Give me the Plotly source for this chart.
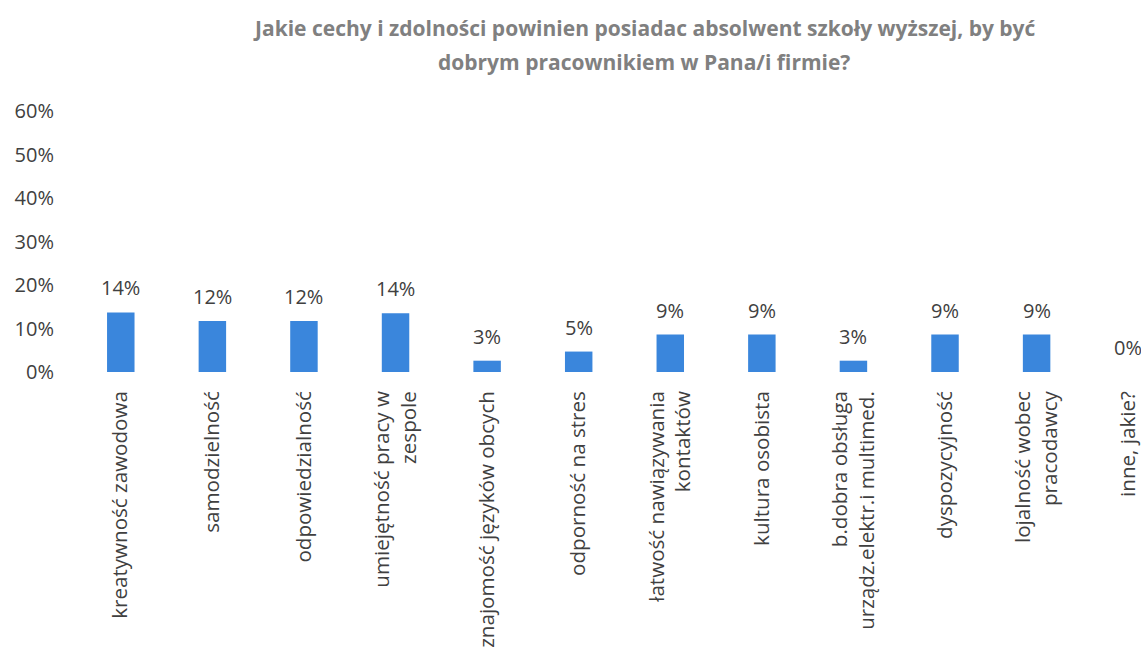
import plotly.graph_objects as go

categories = [
    "kreatywność zawodowa",
    "samodzielność",
    "odpowiedzialność",
    "umiejętność pracy w<br>zespole",
    "znajomość języków obcych",
    "odporność na stres",
    "łatwość nawiązywania<br>kontaktów",
    "kultura osobista",
    "b.dobra obsługa<br>urządz.elektr.i multimed.",
    "dyspozycyjność",
    "lojalność wobec<br>pracodawcy",
    "inne, jakie?",
]
values = [0.137, 0.117, 0.117, 0.135, 0.026, 0.047, 0.086, 0.086, 0.026, 0.086, 0.086, 0.0]
y_ticks = [0, 0.1, 0.2, 0.3, 0.4, 0.5, 0.6]
y_tick_labels = ["0%", "10%", "20%", "30%", "40%", "50%", "60%"]

title_lines = [
    "Jakie cechy i zdolności powinien posiadac absolwent szkoły wyższej, by być",
    "dobrym pracownikiem w Pana/i firmie?",
]

xs = list(range(len(categories)))

fig = go.Figure(go.Bar(
    x=xs,
    y=values,
    width=0.3,
    marker=dict(color="#3a86dc", line=dict(width=0)),
    cliponaxis=False,
))

# value labels above bars
for xi, v in zip(xs, values):
    fig.add_annotation(x=xi, y=v, text=f"{v:.0%}", showarrow=False,
                       xanchor="center", yanchor="bottom", yshift=9,
                       font=dict(family="Open Sans", size=20, color="#404040"))

title_font = dict(family="Open Sans", size=21, color="#808080", weight="bold")
for txt, yp in zip(title_lines, [1.318, 1.188]):
    fig.add_annotation(text=txt, xref="paper", yref="paper", x=0.534, y=yp,
                       xanchor="center", yanchor="middle", showarrow=False, font=title_font)

fig.update_layout(
    width=1141, height=653,
    margin=dict(l=75, r=0, t=111, b=281),
    paper_bgcolor="white", plot_bgcolor="white",
    showlegend=False,
)
fig.update_xaxes(
    range=[-0.5, 11.14],
    tickmode="array", tickvals=xs, ticktext=categories,
    tickangle=-90, showgrid=False, showline=False, zeroline=False, ticks="",
    ticklabelstandoff=14,
    tickfont=dict(family="Open Sans", size=20.6, color="#404040"),
)
fig.update_yaxes(
    range=[0, 0.6], tickmode="array", tickvals=y_ticks, ticktext=y_tick_labels,
    showgrid=False, showline=False, zeroline=False, ticks="",
    ticklabelstandoff=20,
    tickfont=dict(family="Open Sans", size=20, color="#404040"),
)

fig.write_html(
    "out.html",
    config={"displayModeBar": False},
    post_script="document.body.style.margin='0';document.body.style.overflow='hidden';",
)
